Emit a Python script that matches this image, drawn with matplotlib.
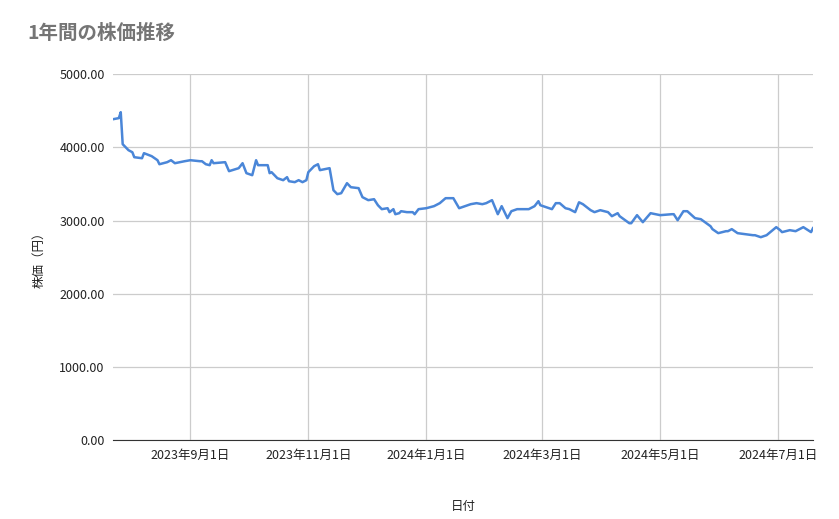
import matplotlib
matplotlib.use("Agg")
import matplotlib.pyplot as plt
import pandas as pd

plt.rcParams['font.family'] = ['Noto Sans CJK JP', 'DejaVu Sans']

start_date = "2023-09-01"
day_offsets = [-40, -37, -36, -35, -32, -30, -29, -25, -24, -20, -17, -16, -12, -10, -8, -3, 0, 5, 6, 8, 10, 11, 12, 18, 20,
               25, 27, 29, 32, 34, 35, 40, 41, 42, 45, 48, 50, 51, 54, 56, 58, 60, 61, 64, 66, 67, 72, 74, 76, 78,
               81, 83, 87, 89, 92, 95, 97, 99, 102, 103, 105, 106, 108, 109, 112, 115, 116, 118, 122, 126, 129, 132,
               136, 139, 145, 148, 151, 153, 156, 159, 161, 164, 166, 169, 175, 178, 180, 181, 187, 189, 191, 194,
               196, 199, 201, 203, 207, 209, 212, 216, 218, 221, 222, 227, 228, 231, 234, 238, 243, 249, 250, 252,
               255, 257, 261, 264, 269, 270, 273, 277, 278, 280, 283, 287, 291, 292, 295, 298, 303, 305, 306, 310,
               313, 317, 321, 322]
prices = [4385, 4400, 4481, 4044, 3962, 3934, 3866, 3852, 3921, 3880, 3825, 3770, 3798, 3825, 3784, 3811, 3825, 3811, 3811, 3770, 3757, 3825, 3784, 3798, 3675,
          3716, 3784, 3648, 3620, 3825, 3757, 3757, 3648, 3661, 3579, 3552, 3593, 3538, 3525, 3552, 3525, 3552, 3661, 3743, 3770, 3689, 3716, 3415, 3361, 3374,
          3511, 3456, 3443, 3320, 3279, 3292, 3210, 3156, 3169, 3115, 3156, 3087, 3101, 3128, 3115, 3115, 3087, 3156, 3169, 3197, 3238, 3306,
          3306, 3169, 3224, 3238, 3224, 3238, 3279, 3087, 3197, 3033, 3128, 3156, 3156, 3197, 3265, 3210, 3156, 3238, 3238, 3169,
          3156, 3115, 3250, 3224, 3142, 3115, 3142, 3115, 3060, 3101, 3060, 2964, 2964, 3074, 2978, 3101, 3074, 3087, 3087, 3005, 3128,
          3128, 3033, 3019, 2923, 2883, 2828, 2855, 2855, 2883, 2828, 2814, 2800, 2800, 2773, 2800, 2910, 2869, 2842, 2869, 2855,
          2910, 2842, 2896]

dates = pd.Timestamp(start_date) + pd.to_timedelta(day_offsets, unit="D")
tick_dates = ["2023-09-01", "2023-11-01", "2024-01-01", "2024-03-01", "2024-05-01", "2024-07-01"]
tick_labels = ["2023年9月1日", "2023年11月1日", "2024年1月1日", "2024年3月1日", "2024年5月1日", "2024年7月1日"]
y_ticks = [0, 1000, 2000, 3000, 4000, 5000]

fig = plt.figure(figsize=(8.39, 5.19), dpi=100)
ax = fig.add_axes([0.1347, 0.152, 0.8343, 0.705])
ax.plot(dates, prices, color="#4a86d8", lw=1.8)
ax.set_xlim(dates[0], dates[-1])
ax.set_ylim(0, 5000)
ax.set_yticks(y_ticks)
ax.set_yticklabels([f"{v:.2f}" for v in y_ticks])
ax.set_xticks(pd.to_datetime(tick_dates))
ax.set_xticklabels(tick_labels)
ax.grid(True, color="#cccccc", lw=0.9)
ax.set_axisbelow(True)
for s in ["top", "right", "left"]:
    ax.spines[s].set_visible(False)
ax.spines["bottom"].set_color("#333333")
ax.tick_params(length=0, labelsize=9, colors="#222222", pad=6)
ax.set_xlabel("日付", fontsize=9, labelpad=28, color="#222222")
ax.set_ylabel("株価（円）", fontsize=9, labelpad=10, color="#222222")
fig.text(0.033, 0.925, "1年間の株価推移", fontsize=14, color="#757575", fontweight="bold")
fig.savefig("out.png", dpi=100, facecolor="white")
